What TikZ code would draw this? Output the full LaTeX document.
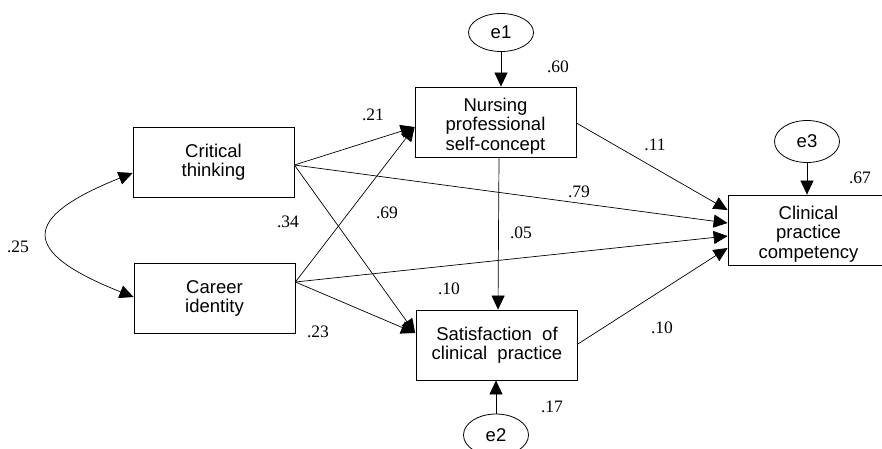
\documentclass[tikz,border=0pt]{standalone}
\usepackage{fontspec}
\setmainfont{Liberation Serif}
\newfontfamily\sansf{Liberation Sans}
\usetikzlibrary{arrows.meta,shapes.geometric,calc}
\tikzset{
  box/.style={draw, line width=0.8pt, minimum width=161pt, minimum height=70pt, inner sep=0pt},
  txt/.style={align=center, font=\sansf\fontsize{18.5}{19.5}\selectfont, inner sep=0pt},
  err/.style={draw, ellipse, line width=0.8pt, minimum width=65pt, minimum height=38pt, inner sep=0pt, font=\sansf\fontsize{18.5}{20}\selectfont},
  coef/.style={font=\fontsize{17.5}{19}\selectfont, inner sep=1pt},
  path/.style={line width=0.7pt, -{Triangle[length=14pt,width=13pt]}},
  cov/.style={line width=0.7pt, {Triangle[length=14pt,width=13pt]}-{Triangle[length=14pt,width=13pt]}}
}
\begin{document}
\begin{tikzpicture}[x=1pt,y=-1pt]
\useasboundingbox (0,0) rectangle (882,448);
\fill[white] (0,0) rectangle (882,448);

% boxes
\node[box,txt] (ct) at (213.5,162) {Critical\\thinking};
\node[box,txt] (ci) at (214.5,298.5) {Career\\identity};
\node[box] (np) at (495.5,122) {};
\node[txt] (nptext) at ($(np.center)+(0,4)$) {Nursing\\professional\\self-concept};
\node[box,txt] (sat) at (497,345) {Satisfaction\ \ of\\clinical\ \ practice};
\node[box] (cl) at (808.5,230) {};
\node[txt] (cltext) at ($(cl.center)+(0,4)$) {Clinical\\practice\\competency};

% error terms
\node[err] (e1) at (501,32.5) {e1};
\node[err, minimum height=42pt] (e3) at (807,141.5) {e3};
\node[err, minimum height=42pt] (e2) at (496,435) {e2};

% anchor points
\coordinate (ctout) at ($(ct.east)+(0,3)$);
\coordinate (ciout) at ($(ci.east)+(0,-16.5)$);
\coordinate (npin) at ($(np.west)+(0,5)$);
\coordinate (satin) at ($(sat.west)+(-1,-12)$);
\coordinate (npout) at ($(np.east)+(0,1)$);
\coordinate (satout) at ($(sat.east)+(0,-1)$);

% paths
\draw[path] (ctout) -- (npin);
\draw[path] (ciout) -- (npin);
\draw[path] (ctout) -- (satin);
\draw[path] (ciout) -- (satin);
\draw[path] ($(np.south)+(3.5,0)$) -- ($(sat.north)+(1,0)$);
\draw[path] (npout) -- ($(cl.west)+(0,-20)$);
\draw[path] (ctout) -- ($(cl.west)+(0,-7)$);
\draw[path] (ciout) -- ($(cl.west)+(0,6)$);
\draw[path] (satout) -- ($(cl.west)+(0,18)$);

% error arrows
\draw[path] (e1.south) -- (e1.south |- np.north);
\draw[path] (e3.south) -- (e3.south |- cl.north);
\draw[path] (e2.north) -- (e2.north |- sat.south);

% covariance
\draw[cov] ($(ct.west)+(0,11)$) .. controls (20,218) and (20,252) .. ($(ci.west)+(0,-1.5)$);

% coefficients
\node[coef] (c25) at (18,247) {.25};
\node[coef] (c34) at (288,222) {.34};
\node[coef] (c21) at (373,115) {.21};
\node[coef] (c69) at (387,213) {.69};
\node[coef, fill=white] (c79) at (579,192) {.79};
\node[coef] (c05) at (521,233) {.05};
\node[coef] (c11) at (655,145) {.11};
\node[coef] (c60) at (558,67) {.60};
\node[coef] (c67) at (860,178) {.67};
\node[coef] (c10a) at (449,289) {.10};
\node[coef] (c23) at (318,332) {.23};
\node[coef] (c10b) at (662,328) {.10};
\node[coef] (c17) at (552,407) {.17};
\end{tikzpicture}
\end{document}
